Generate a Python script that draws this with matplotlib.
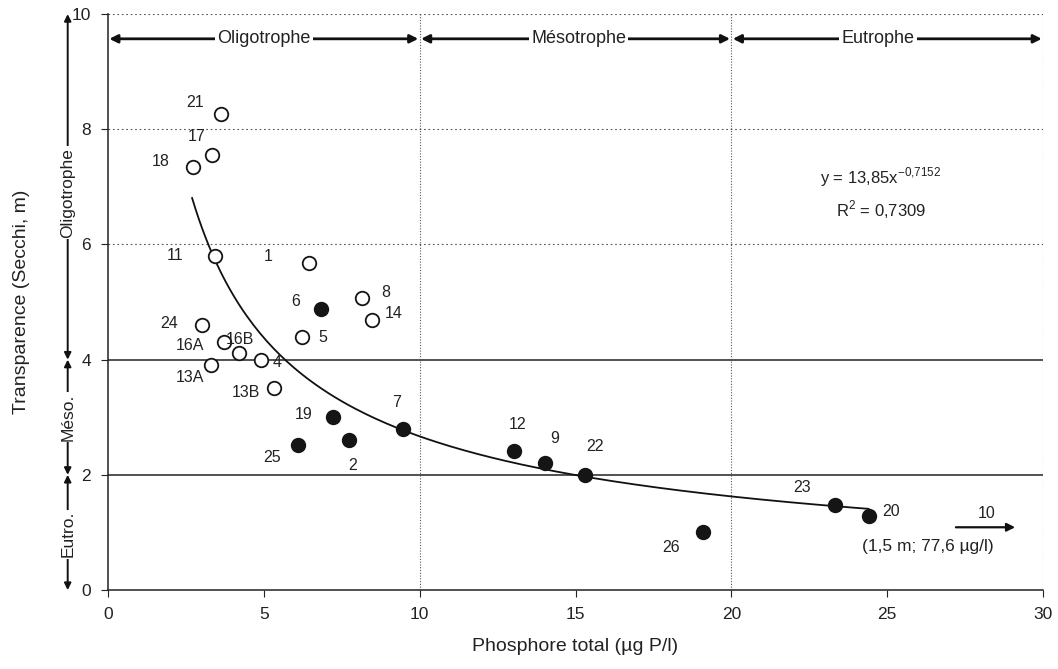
import numpy as np
import matplotlib
matplotlib.use("Agg")
import matplotlib.pyplot as plt
import matplotlib.transforms as mtransforms

plt.rcParams['font.family'] = ['Liberation Sans', 'DejaVu Sans']

# data
labels = ['21', '17', '18', '11', '1', '8', '14', '24', '5', '16A', '16B', '4', '13A', '13B',
          '6', '19', '7', '2', '25', '12', '9', '22', '23', '20', '26']
phos = [3.63, 3.34, 2.73, 3.43, 6.45, 8.15, 8.47, 3.02, 6.22, 3.72, 4.20, 4.91, 3.30, 5.33,
        6.83, 7.22, 9.46, 7.73, 6.10, 13.03, 14.02, 15.30, 23.32, 24.41, 19.09]
secchi = [8.26, 7.56, 7.35, 5.80, 5.68, 5.07, 4.69, 4.60, 4.39, 4.30, 4.11, 3.99, 3.90, 3.50,
          4.88, 3.01, 2.80, 2.61, 2.51, 2.42, 2.21, 2.00, 1.47, 1.28, 1.00]
filled = [False] * 14 + [True] * 11
# label offsets in pixels (dx, dy)
offsets = [(-26, 12), (-15, 18), (-32, 5), (-40, 0), (-41, 6), (24, 6), (22, 6), (-33, 2),
           (21, 0), (-34, -3), (1, 14), (16, -2), (-21, -12), (-28, -4),
           (-25, 7), (-29, 2), (-6, 26), (4, -26), (-26, -12), (3, 26), (10, 24), (10, 28),
           (-33, 18), (22, 5), (-32, -15)]

# power fit shown on the chart
fit_a, fit_b = 13.85, -0.7152
fit_x = np.linspace(2.7, 24.4, 200)

fig = plt.figure(figsize=(10.58, 6.69), dpi=100)
ax = fig.add_axes([0.102, 0.118, 0.884, 0.861])
ax.set_xlim(0, 30)
ax.set_ylim(0, 10)

# grid
for yv in [6, 8, 10]:
    ax.axhline(yv, color='#555555', lw=0.8, ls=(0, (1.5, 2.5)), zorder=1)
for yv in [2, 4]:
    ax.axhline(yv, color='#222222', lw=1.1, zorder=1)
for xv in [10, 20, 30]:
    ax.axvline(xv, color='#555555', lw=0.8, ls=(0, (1, 1.5)), zorder=1)

ax.spines['top'].set_visible(False)
ax.spines['right'].set_visible(False)
ax.spines['left'].set_color('#222222')
ax.spines['bottom'].set_color('#222222')
ax.spines['left'].set_linewidth(1.1)
ax.spines['bottom'].set_linewidth(1.1)
ax.set_xticks(range(0, 31, 5))
ax.set_yticks(range(0, 11, 2))
ax.tick_params(direction='out', length=5, labelsize=12.5, colors='#222222', pad=7)

ax.plot(fit_x, fit_a * fit_x ** fit_b, color='#111111', lw=1.3, zorder=2)

for lab, x, y, f, off in zip(labels, phos, secchi, filled, offsets):
    ax.scatter([x], [y], s=95, facecolor='#151515' if f else 'white',
               edgecolor='#151515', linewidth=1.3, zorder=3)
    ax.annotate(lab, (x, y), xytext=off, textcoords='offset pixels',
                ha='center', va='center', fontsize=11.5, color='#222222', zorder=4)

ax.text(24.8, 7.16, r'y = 13,85x$^{\mathregular{-0{,}7152}}$', ha='center', va='center',
        fontsize=12, color='#222222')
ax.text(24.8, 6.61, r'R$^{\mathregular{2}}$ = 0,7309', ha='center', va='center',
        fontsize=12, color='#222222')

# top trophic arrows
for x0, x1, xt, name in [(0, 10, 5.0, 'Oligotrophe'), (10, 20, 15.1, 'Mésotrophe'),
                         (20, 30, 24.7, 'Eutrophe')]:
    ax.annotate('', xy=(x1, 9.57), xytext=(x0, 9.57),
                arrowprops=dict(arrowstyle='<|-|>', color='#111111', lw=2.0,
                                mutation_scale=12, shrinkA=1, shrinkB=1))
    ax.text(xt, 9.57, name, ha='center', va='center', fontsize=13, color='#222222',
            bbox=dict(facecolor='white', edgecolor='none', pad=1.5), zorder=5)

# left trophic arrows
trans = mtransforms.blended_transform_factory(ax.transAxes, ax.transData)
for y0, y1, yt, name in [(4, 10, 6.9, 'Oligotrophe'), (2, 4, 3.0, 'Méso.'), (0, 2, 0.97, 'Eutro.')]:
    ax.annotate('', xy=(-0.043, y1), xytext=(-0.043, y0), xycoords=trans, textcoords=trans,
                arrowprops=dict(arrowstyle='<|-|>', color='#111111', lw=1.4,
                                mutation_scale=10, shrinkA=0, shrinkB=0),
                annotation_clip=False)
    ax.text(-0.043, yt, name, transform=trans, rotation=90, ha='center', va='center',
            fontsize=12.5, color='#222222', clip_on=False,
            bbox=dict(facecolor='white', edgecolor='none', pad=1))

# lake 10 off scale
ax.annotate('', xy=(29.1, 1.09), xytext=(27.2, 1.09),
            arrowprops=dict(arrowstyle='-|>', color='#111111', lw=1.6, mutation_scale=12,
                            shrinkA=0, shrinkB=0))
ax.text(28.2, 1.33, '10', ha='center', va='center', fontsize=11.5, color='#222222')
ax.text(26.3, 0.75, '(1,5 m; 77,6 µg/l)', ha='center', va='center', fontsize=12.5,
        color='#222222')

ax.set_xlabel('Phosphore total (µg P/l)', fontsize=14, color='#222222', labelpad=12)
ax.set_ylabel('Transparence (Secchi, m)', fontsize=14, color='#222222', labelpad=30)

fig.savefig('out.png', dpi=100)
